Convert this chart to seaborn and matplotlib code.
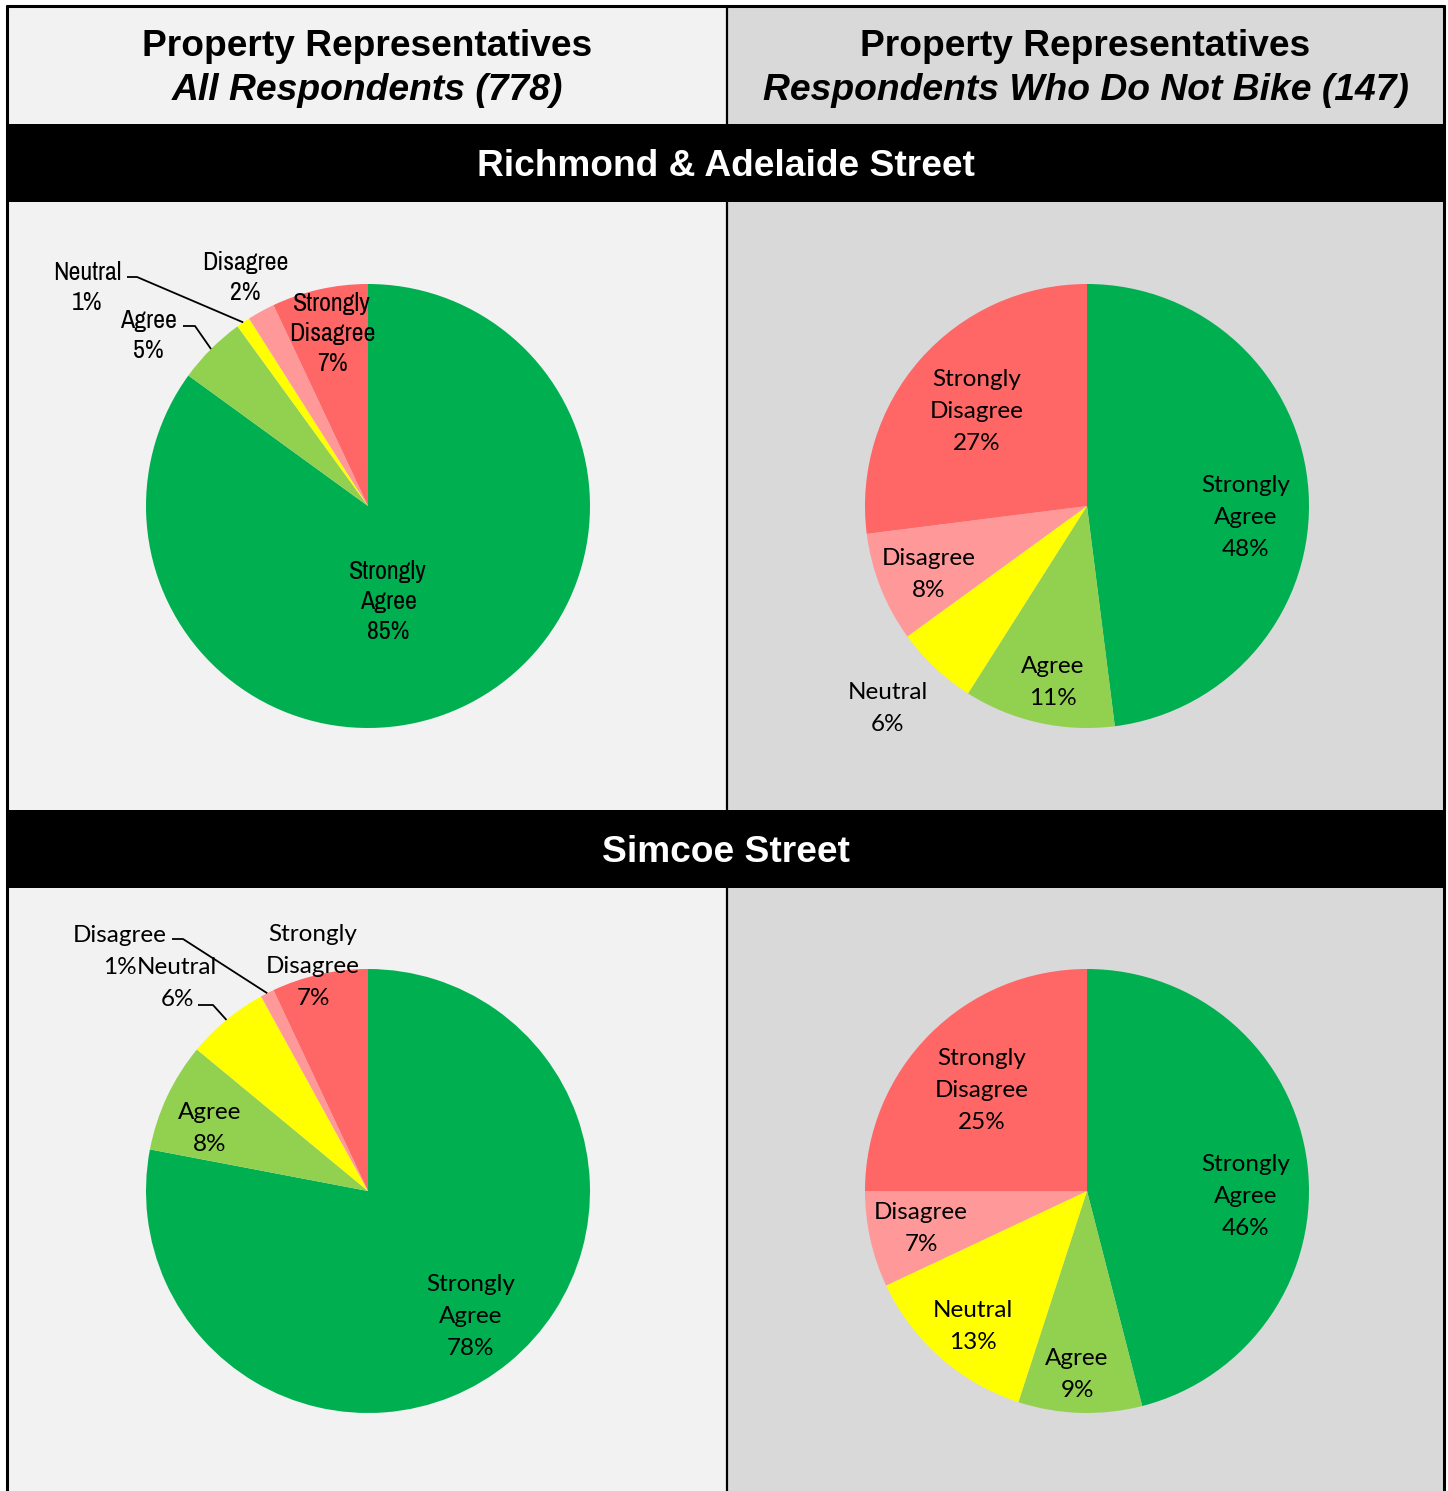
import matplotlib
matplotlib.use("Agg")
import matplotlib.pyplot as plt
import seaborn as sns
from matplotlib import font_manager
from matplotlib.patches import Rectangle
import numpy as np

# ---- data -------------------------------------------------------------
categories = ["Strongly Agree", "Agree", "Neutral", "Disagree", "Strongly Disagree"]
label_names = [["Strongly", "Agree"], ["Agree"], ["Neutral"], ["Disagree"], ["Strongly", "Disagree"]]
slice_colors = ["#00B050", "#92D050", "#FFFF00", "#FF9999", "#FF6666"]

richmond_all = [85, 5, 1, 2, 7]
richmond_nobike = [48, 11, 6, 8, 27]
simcoe_all = [78, 8, 6, 1, 7]
simcoe_nobike = [46, 9, 13, 7, 25]

col_titles = [("Property Representatives", "All Respondents (778)"),
              ("Property Representatives", "Respondents Who Do Not Bike (147)")]
row_titles = ["Richmond & Adelaide Street", "Simcoe Street"]

# ---- layout (pixels) ----------------------------------------------------
W, H = 1448, 1491
XL, XM, XR = 7, 727, 1444
YT, Y_HEAD, Y_BAND1, Y_ROW1, Y_BAND2 = 6, 124, 202, 810, 888
R = 222
BG_LEFT, BG_RIGHT = "#F2F2F2", "#D9D9D9"

sns.set_theme(style="white")
plt.rcParams["font.family"] = ["Liberation Sans", "DejaVu Sans"]
plt.rcParams["text.color"] = "black"


def find_narrow():
    # a condensed sans face for the first chart's labels, if any is installed
    for f in font_manager.fontManager.ttflist:
        if "Narrow" in f.name or "Narrow" in f.fname:
            if f.style == "normal" and f.weight in (400, "normal", "regular"):
                return font_manager.FontProperties(fname=f.fname), True
    for f in font_manager.fontManager.ttflist:
        if ("Condensed" in f.fname or f.stretch == "condensed") and f.style == "normal" \
                and "Bold" not in f.fname:
            return font_manager.FontProperties(fname=f.fname), True
    return font_manager.FontProperties(family="Liberation Sans"), False


names = {f.name for f in font_manager.fontManager.ttflist}
NARROW, IS_NARROW = find_narrow()
CAL = "Lato" if "Lato" in names else "DejaVu Sans"

# label centre offsets from the pie centre (px, y down)
label_pos = {
    "ra_all": [(20, 94), (-220, -172), (-281, -220), (-123, -230), (-36, -174)],
    "ra_nb": [(159, 10), (-34, 175), (-199, 201), (-158, 67), (-110, -96)],
    "si_all": [(103, 124), (-158, -64), (-191, -209), (-248, -241), (-55, -226)],
    "si_nb": [(159, 4), (-10, 182), (-114, 134), (-166, 36), (-105, -102)],
}
# leader lines: slice index -> (start, elbow) offsets in px
leaders = {
    "ra_all": {1: ((-185, -180), (-173, -180)), 2: ((-241, -229), (-231, -229))},
    "si_all": {2: ((-170, -186), (-155, -186)), 3: ((-196, -252), (-185, -252))},
}

narrow_fs = 18.7 if IS_NARROW else 16.0
panels = [
    ("ra_all", richmond_all, (XL, Y_BAND1, XM, Y_ROW1), (368, 506), "narrow", narrow_fs, 30),
    ("ra_nb", richmond_nobike, (XM, Y_BAND1, XR, Y_ROW1), (1087, 506), CAL, 17.5, 32.5),
    ("si_all", simcoe_all, (XL, Y_BAND2, XM, H), (368, 1191), CAL, 17.5, 32),
    ("si_nb", simcoe_nobike, (XM, Y_BAND2, XR, H), (1087, 1191), CAL, 17.5, 32),
]

fig = plt.figure(figsize=(W / 100, H / 100), dpi=100)
bg = fig.add_axes([0, 0, 1, 1])
bg.set_xlim(0, W)
bg.set_ylim(H, 0)
bg.axis("off")

# backgrounds
bg.add_patch(Rectangle((XL, YT), XM - XL, H - YT, color=BG_LEFT, lw=0))
bg.add_patch(Rectangle((XM, YT), XR - XM, H - YT, color=BG_RIGHT, lw=0))
bg.add_patch(Rectangle((XL, Y_HEAD), XR - XL, Y_BAND1 - Y_HEAD, color="black", lw=0))
bg.add_patch(Rectangle((XL, Y_ROW1), XR - XL, Y_BAND2 - Y_ROW1, color="black", lw=0))
# borders
bg.plot([XL, XL], [YT, H], color="black", lw=2.2)
bg.plot([XR, XR], [YT, H], color="black", lw=2.2)
bg.plot([XL, XR], [YT, YT], color="black", lw=2.2)
bg.plot([XM, XM], [YT, H], color="black", lw=1.6)

for i, (l1, l2) in enumerate(col_titles):
    cx = (XL + XM) / 2 if i == 0 else (XM + XR) / 2
    bg.text(cx, 47, l1, ha="center", va="center", fontsize=26.7, fontweight="bold")
    bg.text(cx, 90, l2, ha="center", va="center", fontsize=26.8, fontweight="bold", fontstyle="italic")
bg.text((XL + XR) / 2, 166, row_titles[0], ha="center", va="center", fontsize=26.7,
        fontweight="bold", color="white")
bg.text((XL + XR) / 2, 852, row_titles[1], ha="center", va="center", fontsize=26.7,
        fontweight="bold", color="white")

for key, vals, (x0, y0, x1, y1), (cx, cy), fam, fs, step in panels:
    ax = fig.add_axes([x0 / W, 1 - y1 / H, (x1 - x0) / W, (y1 - y0) / H])
    wedges, _ = ax.pie(vals, colors=sns.color_palette(slice_colors), startangle=90,
                       counterclock=False, radius=1, wedgeprops=dict(linewidth=0))
    ax.set_xlim((x0 - cx) / R, (x1 - cx) / R)
    ax.set_ylim((cy - y1) / R, (cy - y0) / R)
    ax.set_aspect("auto")
    ax.axis("off")
    ax.patch.set_alpha(0)

    for j, w in enumerate(wedges):
        lines = label_names[j] + [f"{vals[j]}%"]
        dx, dy = label_pos[key][j]
        n = len(lines)
        for k, s in enumerate(lines):
            yy = dy + (k - (n - 1) / 2) * step + 1.5
            if fam == "narrow":
                fp = NARROW.copy()
                fp.set_size(fs)
                ax.text(dx / R, -yy / R, s, ha="center", va="center", fontproperties=fp,
                        color="black")
            else:
                ax.text(dx / R, -yy / R, s, ha="center", va="center", fontsize=fs,
                        family=[fam, "DejaVu Sans"], color="black")
        if key in leaders and j in leaders[key]:
            (sx, sy), (ex, ey) = leaders[key][j]
            mid = np.deg2rad((w.theta1 + w.theta2) / 2)
            px, py = np.cos(mid), np.sin(mid)
            ax.plot([sx / R, ex / R, px], [-sy / R, -ey / R, py], color="black", lw=1.3,
                    solid_capstyle="butt")

fig.savefig("out.png", dpi=100)
